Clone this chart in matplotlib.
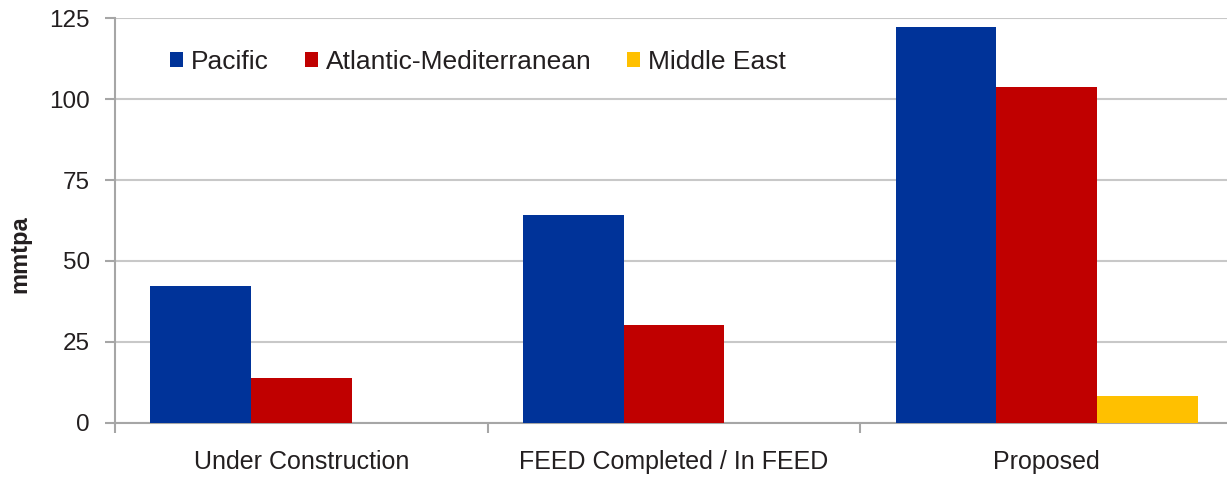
import matplotlib.pyplot as plt
import numpy as np

# LNG capacity by project stage (mmtpa)
stages = ["Under Construction", "FEED Completed / In FEED", "Proposed"]
pacific = [42.3, 64.3, 122.2]
atlantic_med = [13.7, 30.3, 103.7]
middle_east = [0.0, 0.0, 8.3]

series = [
    ("Pacific", pacific, "#003399"),
    ("Atlantic-Mediterranean", atlantic_med, "#C00000"),
    ("Middle East", middle_east, "#FFC000"),
]

plt.rcParams['font.family'] = ['Liberation Sans', 'DejaVu Sans']

W, H = 1227, 479
fig = plt.figure(figsize=(W / 100, H / 100), dpi=100)
ax = fig.add_axes([115 / W, (H - 422.7) / H, 1118 / W, 404.4 / H])

x = np.arange(len(stages))
width = 0.27
for i, (name, vals, color) in enumerate(series):
    ax.bar(x + (i - 1) * width, vals, width, color=color, label=name,
           zorder=3, linewidth=0)

ax.set_xlim(-0.5, len(stages) - 0.5)
ax.set_ylim(0, 125)
ax.set_yticks(np.arange(0, 126, 25))
ax.set_xticks(x)
ax.set_xticklabels(stages)
ax.set_xticks(np.arange(-0.5, len(stages), 1), minor=True)

grid_col = "#c8c8c8"
axis_col = "#a6a6a6"
text_col = "#231f20"
ax.yaxis.grid(True, color=grid_col, linewidth=1.5, zorder=0)
for side in ("top", "right"):
    ax.spines[side].set_visible(False)
for side in ("left", "bottom"):
    ax.spines[side].set_color(axis_col)
    ax.spines[side].set_linewidth(1.5)

ax.tick_params(axis="x", which="major", length=0, pad=20, labelsize=18,
               labelcolor=text_col)
ax.tick_params(axis="x", which="minor", length=7, width=1.5, color=axis_col)
ax.tick_params(axis="y", length=7, width=1.5, color=axis_col, pad=11,
               labelsize=17.5, labelcolor=text_col)

ax.set_ylabel("mmtpa", fontsize=17, fontweight="bold", color=text_col)
ax.yaxis.set_label_coords(-0.0745, 0.416)

ax.legend(loc="upper left", bbox_to_anchor=(0.028, 0.98), ncol=3,
          frameon=False, fontsize=19, handlelength=0.5, handleheight=0.5,
          handletextpad=0.3, columnspacing=1.35, labelcolor=text_col)

fig.savefig("out.png", dpi=100)
